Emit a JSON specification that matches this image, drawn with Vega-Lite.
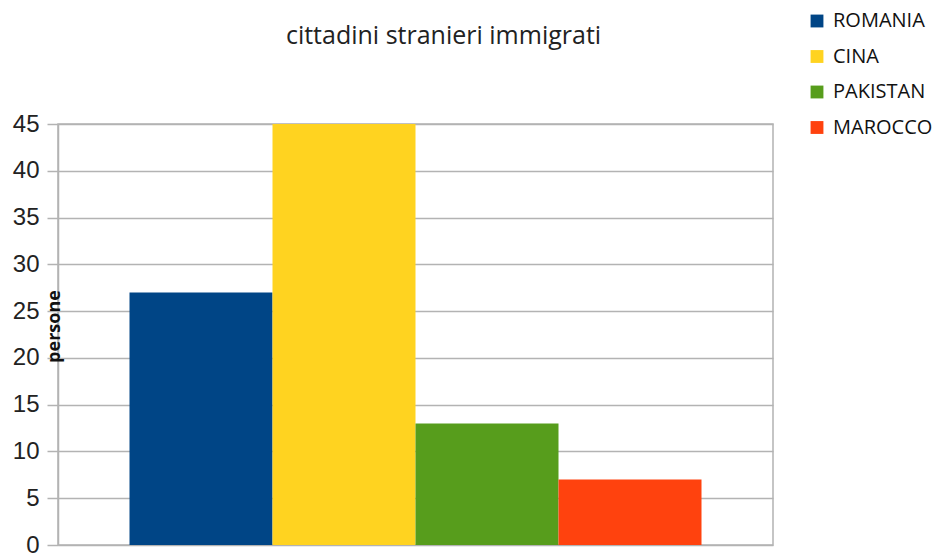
{
  "$schema": "https://vega.github.io/schema/vega-lite/v6.json",
  "width": 715,
  "height": 421,
  "autosize": {"type": "none"},
  "padding": {"left": 58, "top": 124, "right": 170, "bottom": 8},
  "background": "white",
  "title": {"text": "cittadini stranieri immigrati", "font": "Open Sans", "fontSize": 25, "fontWeight": "normal", "color": "#222", "anchor": "middle", "dx": 28, "offset": -38},
  "config": {"view": {"stroke": "#b3b3b3", "strokeWidth": 1.5}},
  "data": {"values": [
    {"paese": "ROMANIA", "persone": 27},
    {"paese": "CINA", "persone": 45},
    {"paese": "PAKISTAN", "persone": 13},
    {"paese": "MAROCCO", "persone": 7}
  ]},
  "mark": {"type": "bar"},
  "encoding": {
    "x": {"field": "paese", "type": "nominal", "sort": null, "scale": {"paddingInner": 0, "paddingOuter": 0.5}, "axis": null},
    "y": {"field": "persone", "type": "quantitative", "scale": {"domain": [0, 45], "nice": false},
      "axis": {"values": [0,5,10,15,20,25,30,35,40,45], "title": "persone", "titleFont": "Open Sans", "titleFontSize": 18, "titleFontWeight": "bold", "titleColor": "#111", "titleAngle": -90, "titleX": 1, "titleY": 202, "titleAlign": "center", "titleBaseline": "alphabetic",
        "labelFont": "Liberation Sans", "labelFontSize": 24, "labelColor": "#222", "labelPadding": 8, "tickSize": 11, "tickColor": "#b3b3b3", "tickWidth": 1.5, "domainColor": "#b3b3b3", "domainWidth": 1.5, "gridColor": "#b3b3b3", "gridWidth": 1.5}},
    "color": {"field": "paese", "type": "nominal", "sort": null,
      "scale": {"domain": ["ROMANIA", "CINA", "PAKISTAN", "MAROCCO"], "range": ["#004586", "#ffd320", "#579d1c", "#ff420e"]},
      "legend": {"title": null, "orient": "none", "legendX": 749, "legendY": -113, "symbolType": "square", "symbolSize": 165, "symbolStrokeWidth": 0, "labelFont": "Open Sans", "labelFontSize": 20, "labelColor": "#111", "rowPadding": 15.5, "labelOffset": 6}}
  }
}
